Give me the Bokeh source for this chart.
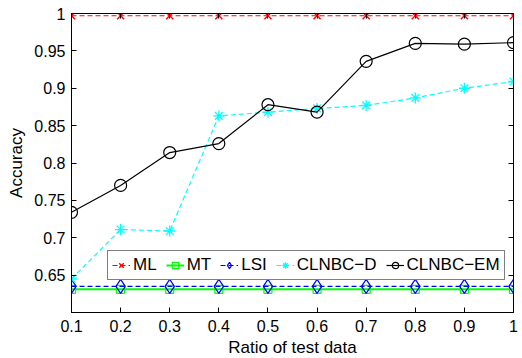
from bokeh.plotting import figure
from bokeh.models import (Range1d, LinearAxis, FixedTicker, Legend, LegendItem,
                          CustomJSTickFormatter)
from bokeh.embed import file_html
from bokeh.resources import INLINE

ratio = [0.1, 0.2, 0.3, 0.4, 0.5, 0.6, 0.7, 0.8, 0.9, 1.0]
ml = [0.997, 0.997, 0.997, 0.997, 0.997, 0.997, 0.997, 0.997, 0.997, 0.997]
mt = [0.631, 0.631, 0.631, 0.631, 0.631, 0.631, 0.631, 0.631, 0.631, 0.631]
lsi = [0.635, 0.635, 0.635, 0.635, 0.635, 0.635, 0.635, 0.635, 0.635, 0.635]
clnbc_d = [0.645, 0.711, 0.709, 0.863, 0.868, 0.873, 0.877, 0.887, 0.900, 0.909]
clnbc_em = [0.734, 0.770, 0.814, 0.826, 0.878, 0.868, 0.936, 0.960, 0.959, 0.961]

xtick_vals = [0.1, 0.2, 0.3, 0.4, 0.5, 0.6, 0.7, 0.8, 0.9, 1.0]
xtick_labels = ["0.1", "0.2", "0.3", "0.4", "0.5", "0.6", "0.7", "0.8", "0.9", "1"]
ytick_vals = [0.65, 0.7, 0.75, 0.8, 0.85, 0.9, 0.95, 1.0]
ytick_labels = ["0.65", "0.7", "0.75", "0.8", "0.85", "0.9", "0.95", "1"]

FONT = "Liberation Sans"

p = figure(frame_width=442, frame_height=299, output_backend="svg",
           toolbar_location=None, x_range=Range1d(0.1, 1.0),
           y_range=Range1d(0.6, 1.0),
           min_border_left=71, min_border_top=13, min_border_right=9,
           min_border_bottom=46)
p.xgrid.visible = False
p.ygrid.visible = False
p.outline_line_color = "black"
p.outline_line_width = 1

for ax, vals, labels in ((p.xaxis[0], xtick_vals, xtick_labels),
                         (p.yaxis[0], ytick_vals, ytick_labels)):
    ax.ticker = FixedTicker(ticks=vals)
    ax.major_label_overrides = {v: l for v, l in zip(vals, labels)}
    ax.major_tick_in = 5
    ax.major_tick_out = 0
    ax.minor_tick_in = 0
    ax.minor_tick_out = 0
    ax.major_label_text_font = FONT
    ax.major_label_text_font_size = "16px"
    ax.major_label_text_color = "black"
    ax.axis_label_text_font = FONT
    ax.axis_label_text_font_size = "17px"
    ax.axis_label_text_font_style = "normal"
    ax.axis_label_text_color = "black"
    ax.axis_line_color = "black"
    ax.major_tick_line_color = "black"

p.xaxis.axis_label = "Ratio of test data"
p.yaxis.axis_label = "Accuracy"
p.xaxis.major_label_standoff = 7
p.xaxis.axis_label_standoff = 3
p.yaxis.major_label_standoff = 6
p.yaxis.axis_label_standoff = 5

# mirrored tick axes (box on), no labels
right_ax = LinearAxis(ticker=FixedTicker(ticks=ytick_vals),
                      formatter=CustomJSTickFormatter(code="return ''"))
top_ax = LinearAxis(ticker=FixedTicker(ticks=xtick_vals),
                    formatter=CustomJSTickFormatter(code="return ''"))
for ax in (right_ax, top_ax):
    ax.major_tick_in = 5
    ax.major_tick_out = 0
    ax.minor_tick_in = 0
    ax.minor_tick_out = 0
    ax.major_label_standoff = 0
    ax.axis_line_color = "black"
p.add_layout(right_ax, "right")
p.add_layout(top_ax, "above")

dash = "5 3"
items = []

l1 = p.line(ratio, ml, line_color="#ff0000", line_width=1.2, line_dash=dash)
s1 = p.scatter(ratio, ml, marker="x", size=10, line_color="#ff0000", line_width=1.4)
items.append(LegendItem(label="ML", renderers=[l1, s1]))

l2 = p.line(ratio, mt, line_color="#00ff00", line_width=2)
s2 = p.scatter(ratio, mt, marker="square", size=8, line_color="#00ff00",
               fill_color=None, line_width=1.2)
items.append(LegendItem(label="MT", renderers=[l2, s2]))

l3 = p.line(ratio, lsi, line_color="#0000ff", line_width=1.2, line_dash=dash)
s3 = p.scatter(ratio, lsi, marker="diamond", size=14,
               line_color="#0000ff", fill_color=None, line_width=1.2)
items.append(LegendItem(label="LSI", renderers=[l3, s3]))

l4 = p.line(ratio, clnbc_d, line_color="#00ffff", line_width=1.2, line_dash=dash)
s4 = p.scatter(ratio, clnbc_d, marker="asterisk", size=11, line_color="#00ffff",
               line_width=1.3)
items.append(LegendItem(label="CLNBC\u2212D", renderers=[l4, s4]))

l5 = p.line(ratio, clnbc_em, line_color="black", line_width=1.2)
s5 = p.scatter(ratio, clnbc_em, marker="circle", size=12, line_color="black",
               fill_color=None, line_width=1.2)
items.append(LegendItem(label="CLNBC\u2212EM", renderers=[l5, s5]))

legend = Legend(items=items, orientation="horizontal", location=(36, 32),
                label_text_font=FONT, label_text_font_size="17px",
                label_text_color="black",
                glyph_width=18, glyph_height=16, label_standoff=3,
                spacing=9, padding=4, margin=0,
                border_line_color="black", border_line_width=1,
                background_fill_color="white", background_fill_alpha=1.0,
                label_height=16)
p.add_layout(legend, "center")

open("out.html", "w").write(file_html(p, INLINE))
